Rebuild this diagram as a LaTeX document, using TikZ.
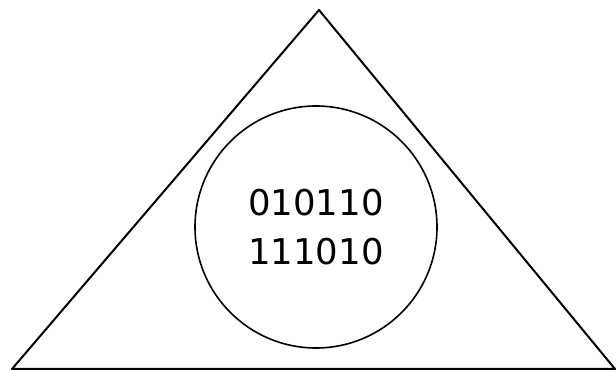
\documentclass[tikz,border=0pt]{standalone}
\usepackage{fontspec}
\setmainfont{DejaVu Sans}
\usepackage{tikz}
\usetikzlibrary{calc}
\usepackage{tkz-euclide}

\begin{document}
\begin{tikzpicture}[x=10pt, y=10pt]
            \useasboundingbox (0,0) rectangle (61.6,37.1);
            \tkzDefPoints{1.2/0.2/A, 61.5/0.2/B, 31.9/36.1/C, 31.6/14.4/O, 43.7/14.4/R}
            \tkzDrawPolygon[black, line width=2pt](A,B,C)
            \tkzDrawCircle[black, line width=1.6pt](O,R)
            \node[align=center, font=\fontsize{35.5pt}{49pt}\selectfont] (bits) at (O) {010110\\111010};
        \end{tikzpicture}
\end{document}
